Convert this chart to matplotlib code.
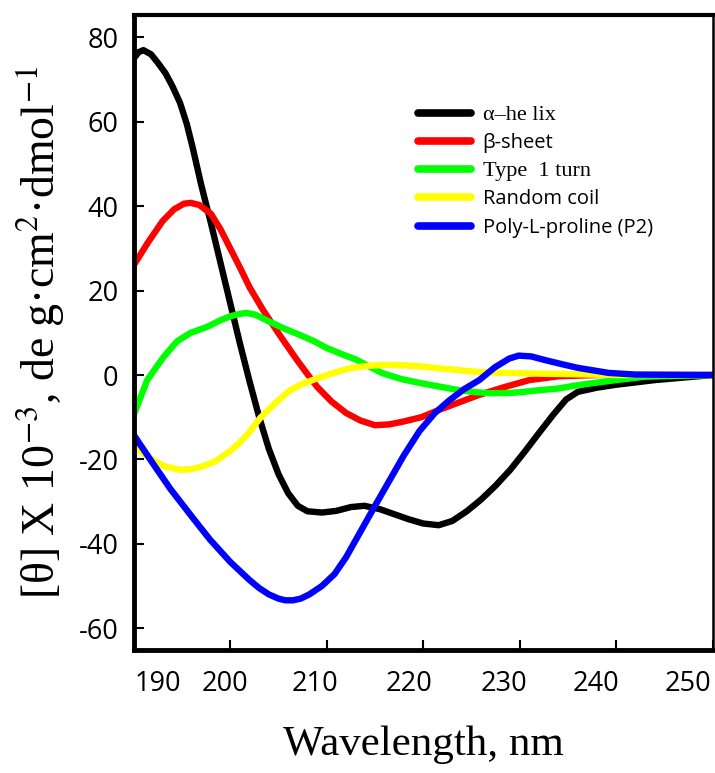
import matplotlib
matplotlib.use("Agg")
import matplotlib.pyplot as plt
from matplotlib.transforms import ScaledTranslation

# CD spectra reference curves (x10^-3)
helix_x = [190, 190.5, 191, 191.8, 192.5, 193.3, 194, 194.8, 195.5, 196.1, 197, 198, 199, 200, 201, 202,
           203, 204, 205, 206, 207, 208, 209.5, 211, 212.5, 213.9, 215.5, 217, 218.5, 220, 221.6,
           223, 224.5, 226, 227.5, 229, 230.5, 232, 233.5, 234.8, 236, 238, 240, 244, 250]
helix_y = [75, 76.5, 77, 76, 74, 71.5, 68.5, 64.5, 59.5, 54, 45, 36, 26.5, 17, 7.5, -1.5,
           -10, -17.5, -23.5, -28, -31, -32.3, -32.6, -32.2, -31.3, -31, -31.8, -33, -34.2, -35.2, -35.6,
           -34.6, -32.3, -29.5, -26.2, -22.5, -18.2, -13.7, -9.3, -5.8, -4, -3, -2.3, -1.2, 0]

sheet_x = [190, 191.5, 193, 194.2, 195.2, 195.9, 196.8, 198, 199, 200, 201, 202, 203.4, 205.2, 206.9,
           208, 209, 210.5, 212, 213.5, 215, 216.5, 218, 219.8, 221.6, 223.7, 225.8, 228.5, 231,
           234, 238, 242, 250]
sheet_y = [26, 31.5, 36.5, 39.3, 40.6, 40.8, 40.3, 38.2, 34.5, 30, 25.5, 20.8, 15.4, 9.2, 3.6,
           0.2, -2.8, -6.3, -9, -10.8, -11.9, -11.7, -11, -10, -8.3, -6.5, -4.7, -2.8, -1.2,
           -0.3, 0, 0, 0]

turn_x = [190, 191.4, 193.1, 194.5, 195.9, 197.6, 199, 200, 201, 201.7, 202.6, 204.1, 205.6, 207.2,
          208.6, 210, 211.5, 213.1, 214.5, 215.8, 217.8, 219.9, 221.8, 223.7, 225.5, 226.8, 228.5,
          230, 232, 234, 236, 240, 243, 250]
turn_y = [-9.5, -1.2, 4.3, 8, 10, 11.4, 13, 13.9, 14.5, 14.7, 14.3, 12.6, 11, 9.5,
          8.1, 6.4, 5, 3.6, 1.9, 0.4, -1, -2, -2.8, -3.6, -4.1, -4.3, -4.3,
          -4.1, -3.6, -3.2, -2.4, -1.2, -0.4, 0]

coil_x = [190, 191.5, 193, 194.8, 196, 197.2, 198.5, 200, 201, 202, 203.1, 204.6, 206.2, 207.6, 209,
          210.7, 212.4, 214, 215.8, 218, 219.9, 222.5, 225.8, 230, 235, 240, 250]
coil_y = [-16.6, -19.5, -21.5, -22.5, -22.3, -21.6, -20.4, -18, -16, -13.5, -10.2, -6.8, -3.6, -2, -0.8,
          0.5, 1.6, 2.1, 2.4, 2.3, 2.0, 1.4, 0.7, 0.4, 0.2, 0, 0]

ppii_x = [190, 192, 193.8, 196, 197.9, 200, 202, 203, 204, 205, 205.7, 206.5, 207.3, 208.2, 209.5, 210.8,
          212, 213.4, 215, 216.5, 218, 219.6, 221.2, 222.7, 224.2, 225.8, 227.4, 228.9, 229.9, 231.2,
          232.5, 234.3, 236, 239.2, 242, 250]
ppii_y = [-14.2, -21, -27, -33.5, -39, -44.3, -48.6, -50.5, -52, -53, -53.4, -53.4, -53, -52, -50, -47.2,
          -43.2, -37.5, -31, -25, -19, -13.3, -9, -6, -3.4, -1.2, 1.8, 3.9, 4.6, 4.4,
          3.6, 2.6, 1.7, 0.5, 0.1, 0]

xticks = [190, 200, 210, 220, 230, 240, 250]
yticks = [-60, -40, -20, 0, 20, 40, 60, 80]
labels = ["\u03b1\u2013he lix", "\u03b2-sheet", "Type  1 turn", "Random coil", "Poly-L-proline (P2)"]
colors = ["#000000", "#ff0000", "#00ff00", "#ffff00", "#0000ff"]

plt.rcParams["mathtext.fontset"] = "stix"
plt.rcParams["axes.unicode_minus"] = False

fig = plt.figure(figsize=(7.15, 7.73), dpi=100)
ax = fig.add_axes([0.187, 0.159, 0.810, 0.822])

series = [(helix_x, helix_y), (sheet_x, sheet_y), (turn_x, turn_y), (coil_x, coil_y), (ppii_x, ppii_y)]
for (xs, ys), lab, c in zip(series, labels, colors):
    ax.plot(xs, ys, color=c, lw=4.6, label=lab, solid_joinstyle="round", solid_capstyle="round")

ax.set_xlim(190, 250)
ax.set_ylim(-65.2, 85.4)
ax.set_xticks(xticks)
ax.set_yticks(yticks)
ax.tick_params(direction="in", length=7, width=1.5, labelsize=19.5, pad=11)
ax.tick_params(axis="x", pad=14)
for lab in ax.get_xticklabels() + ax.get_yticklabels():
    lab.set_family("Open Sans")

# x tick labels in the original sit a bit off their ticks
shifts = [24, -5, -12, -14, -16, -20, -25]
for lab, dx in zip(ax.get_xticklabels(), shifts):
    lab.set_transform(lab.get_transform() + ScaledTranslation(dx / 100, 0, fig.dpi_scale_trans))

ax.spines["left"].set_linewidth(3.5)
ax.spines["bottom"].set_linewidth(3.5)
ax.spines["top"].set_linewidth(3)
ax.spines["right"].set_linewidth(1.8)

ax.set_xlabel("Wavelength, nm", family="Liberation Serif", fontsize=31, labelpad=20)
ax.set_ylabel("[\u03b8] X 10$^{-3}$, de g\u00b7cm$^{2}$\u00b7dmol$^{-1}$",
              family="Liberation Serif", fontsize=33, labelpad=8)

leg = ax.legend(loc="upper left", bbox_to_anchor=(0.46, 0.885), frameon=False,
                handlelength=2.6, handletextpad=0.6, labelspacing=0.42,
                prop={"family": "Open Sans", "size": 14.5})
for i, t in enumerate(leg.get_texts()):
    if i in (0, 2):
        t.set_family("Liberation Serif")
        t.set_fontsize(16)
for h in leg.get_lines():
    h.set_linewidth(5.5)

fig.savefig("out.png", dpi=100)
